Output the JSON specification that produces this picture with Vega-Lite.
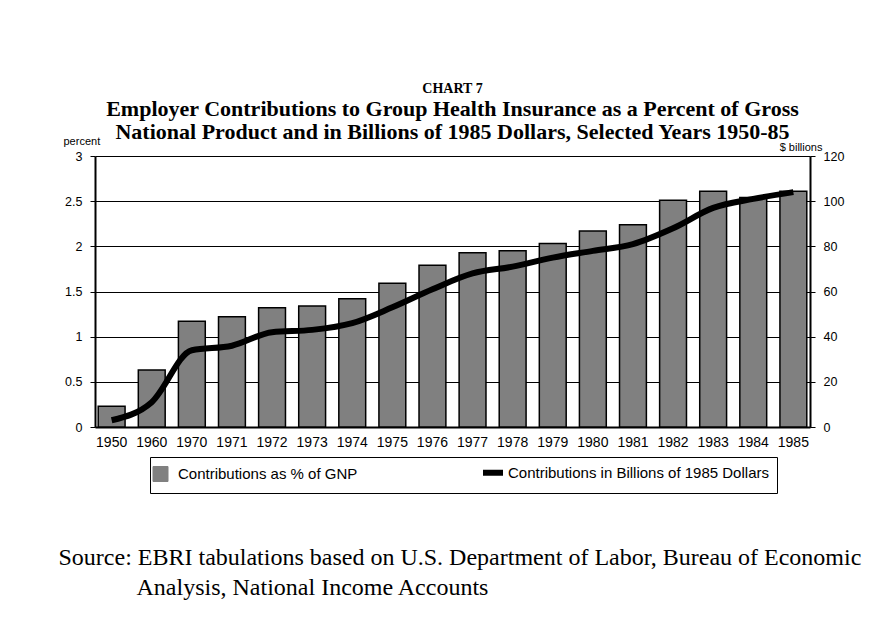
{
  "$schema": "https://vega.github.io/schema/vega-lite/v6.json",
  "width": 715,
  "height": 271,
  "autosize": {"type": "none"},
  "padding": {"left": 95, "top": 156, "right": 68, "bottom": 190},
  "background": "white",
  "config": {"view": {"stroke": null}},
  "title": {
    "text": "CHART 7",
    "subtitle": ["Employer Contributions to Group Health Insurance as a Percent of Gross", "National Product and in Billions of 1985 Dollars, Selected Years 1950-85"],
    "font": "Liberation Serif",
    "fontSize": 14,
    "fontWeight": "bold",
    "color": "black",
    "subtitleFont": "Liberation Serif",
    "subtitleFontSize": 22,
    "subtitleFontWeight": "bold",
    "subtitleColor": "black",
    "subtitleLineHeight": 23,
    "subtitlePadding": 3,
    "anchor": "middle",
    "offset": -8
  },
  "data": {
    "values": [
      {"year": "1950", "pct": 0.23, "billions": 3},
      {"year": "1960", "pct": 0.63, "billions": 11},
      {"year": "1970", "pct": 1.17, "billions": 34},
      {"year": "1971", "pct": 1.22, "billions": 36},
      {"year": "1972", "pct": 1.32, "billions": 42},
      {"year": "1973", "pct": 1.34, "billions": 43},
      {"year": "1974", "pct": 1.42, "billions": 46},
      {"year": "1975", "pct": 1.59, "billions": 53},
      {"year": "1976", "pct": 1.79, "billions": 61},
      {"year": "1977", "pct": 1.93, "billions": 68},
      {"year": "1978", "pct": 1.95, "billions": 71},
      {"year": "1979", "pct": 2.03, "billions": 75},
      {"year": "1980", "pct": 2.17, "billions": 78},
      {"year": "1981", "pct": 2.24, "billions": 81},
      {"year": "1982", "pct": 2.51, "billions": 88},
      {"year": "1983", "pct": 2.61, "billions": 97},
      {"year": "1984", "pct": 2.54, "billions": 101},
      {"year": "1985", "pct": 2.61, "billions": 104}
    ]
  },
  "layer": [
    {
      "mark": {"type": "bar", "stroke": "black", "strokeWidth": 1.5},
      "encoding": {
        "x": {
          "field": "year",
          "type": "ordinal",
          "scale": {"paddingInner": 0.33, "paddingOuter": 0.08},
          "axis": {
            "labelAngle": 0,
            "labelFont": "Liberation Sans",
            "labelFontSize": 14,
            "labelColor": "black",
            "labelPadding": 8,
            "ticks": false,
            "domainColor": "black",
            "domainWidth": 2,
            "title": ["Source:  EBRI tabulations based on U.S. Department of Labor, Bureau of Economic", "\u200b\u00a0\u00a0\u00a0\u00a0\u00a0\u00a0\u00a0\u00a0\u00a0\u00a0\u00a0\u00a0\u00a0Analysis, National Income Accounts"],
            "titleFont": "Liberation Serif",
            "titleFontSize": 24,
            "titleFontWeight": "normal",
            "titleColor": "black",
            "titleAnchor": "start",
            "titleAlign": "left",
            "titleBaseline": "alphabetic",
            "titleX": -37,
            "titleY": 137,
            "titleLineHeight": 30
          }
        },
        "y": {
          "field": "pct",
          "type": "quantitative",
          "scale": {"domain": [0, 3]},
          "axis": {
            "values": [0, 0.5, 1, 1.5, 2, 2.5, 3],
            "format": "~g",
            "grid": true,
            "gridColor": "black",
            "gridWidth": 1,
            "gridOpacity": 1,
            "domainColor": "black",
            "domainWidth": 2,
            "tickColor": "black",
            "tickSize": 5,
            "labelFont": "Liberation Sans",
            "labelFontSize": 12.5,
            "labelColor": "black",
            "labelPadding": 8,
            "title": "percent",
            "titleAngle": 0,
            "titleFont": "Liberation Sans",
            "titleFontSize": 11,
            "titleFontWeight": "normal",
            "titleColor": "black",
            "titleAlign": "left",
            "titleBaseline": "alphabetic",
            "titleX": -32,
            "titleY": -12
          }
        },
        "color": {
          "datum": "Contributions as % of GNP",
          "type": "nominal",
          "scale": {"domain": ["Contributions as % of GNP", "Contributions in Billions of 1985 Dollars"], "range": ["#808080", "black"]},
          "legend": {
            "orient": "none",
            "legendX": 55,
            "legendY": 301,
            "direction": "horizontal",
            "title": null,
            "strokeColor": "black",
            "fillColor": "white",
            "padding": 8,
            "columnPadding": 113,
            "labelFont": "Liberation Sans",
            "labelFontSize": 15,
            "labelColor": "black",
            "labelOffset": 5,
            "labelLimit": 400,
            "symbolSize": 625,
            "encode": {
              "symbols": {
                "update": {
                  "shape": {"signal": "datum.value === 'Contributions as % of GNP' ? 'M-1,-0.6H0.2V0.6H-1Z' : 'M-1,0H0.6'"},
                  "fill": {"signal": "datum.value === 'Contributions as % of GNP' ? '#808080' : 'transparent'"},
                  "stroke": {"value": "black"},
                  "strokeWidth": {"signal": "datum.value === 'Contributions as % of GNP' ? 1 : 6"},
                  "opacity": {"value": 1}
                }
              }
            }
          }
        }
      }
    },
    {
      "mark": {"type": "line", "strokeWidth": 6, "interpolate": "monotone"},
      "encoding": {
        "x": {"field": "year", "type": "ordinal"},
        "y": {
          "field": "billions",
          "type": "quantitative",
          "scale": {"domain": [0, 120]},
          "axis": {
            "orient": "right",
            "values": [0, 20, 40, 60, 80, 100, 120],
            "grid": false,
            "domainColor": "black",
            "domainWidth": 2,
            "tickColor": "black",
            "tickSize": 5,
            "labelFont": "Liberation Sans",
            "labelFontSize": 12.5,
            "labelColor": "black",
            "labelPadding": 8,
            "title": "$ billions",
            "titleAngle": 0,
            "titleFont": "Liberation Sans",
            "titleFontSize": 11,
            "titleFontWeight": "normal",
            "titleColor": "black",
            "titleAlign": "right",
            "titleBaseline": "alphabetic",
            "titleX": 12,
            "titleY": -6
          }
        },
        "color": {
          "datum": "Contributions in Billions of 1985 Dollars",
          "type": "nominal",
          "legend": {
            "orient": "none",
            "legendX": 55,
            "legendY": 301,
            "direction": "horizontal",
            "title": null,
            "strokeColor": "black",
            "fillColor": "white",
            "padding": 8,
            "columnPadding": 113,
            "labelFont": "Liberation Sans",
            "labelFontSize": 15,
            "labelColor": "black",
            "labelOffset": 5,
            "labelLimit": 400,
            "symbolSize": 625,
            "encode": {
              "symbols": {
                "update": {
                  "shape": {"signal": "datum.value === 'Contributions as % of GNP' ? 'M-1,-0.6H0.2V0.6H-1Z' : 'M-1,0H0.6'"},
                  "fill": {"signal": "datum.value === 'Contributions as % of GNP' ? '#808080' : 'transparent'"},
                  "stroke": {"value": "black"},
                  "strokeWidth": {"signal": "datum.value === 'Contributions as % of GNP' ? 1 : 6"},
                  "opacity": {"value": 1}
                }
              }
            }
          }
        }
      }
    }
  ],
  "resolve": {"scale": {"y": "independent"}}
}
